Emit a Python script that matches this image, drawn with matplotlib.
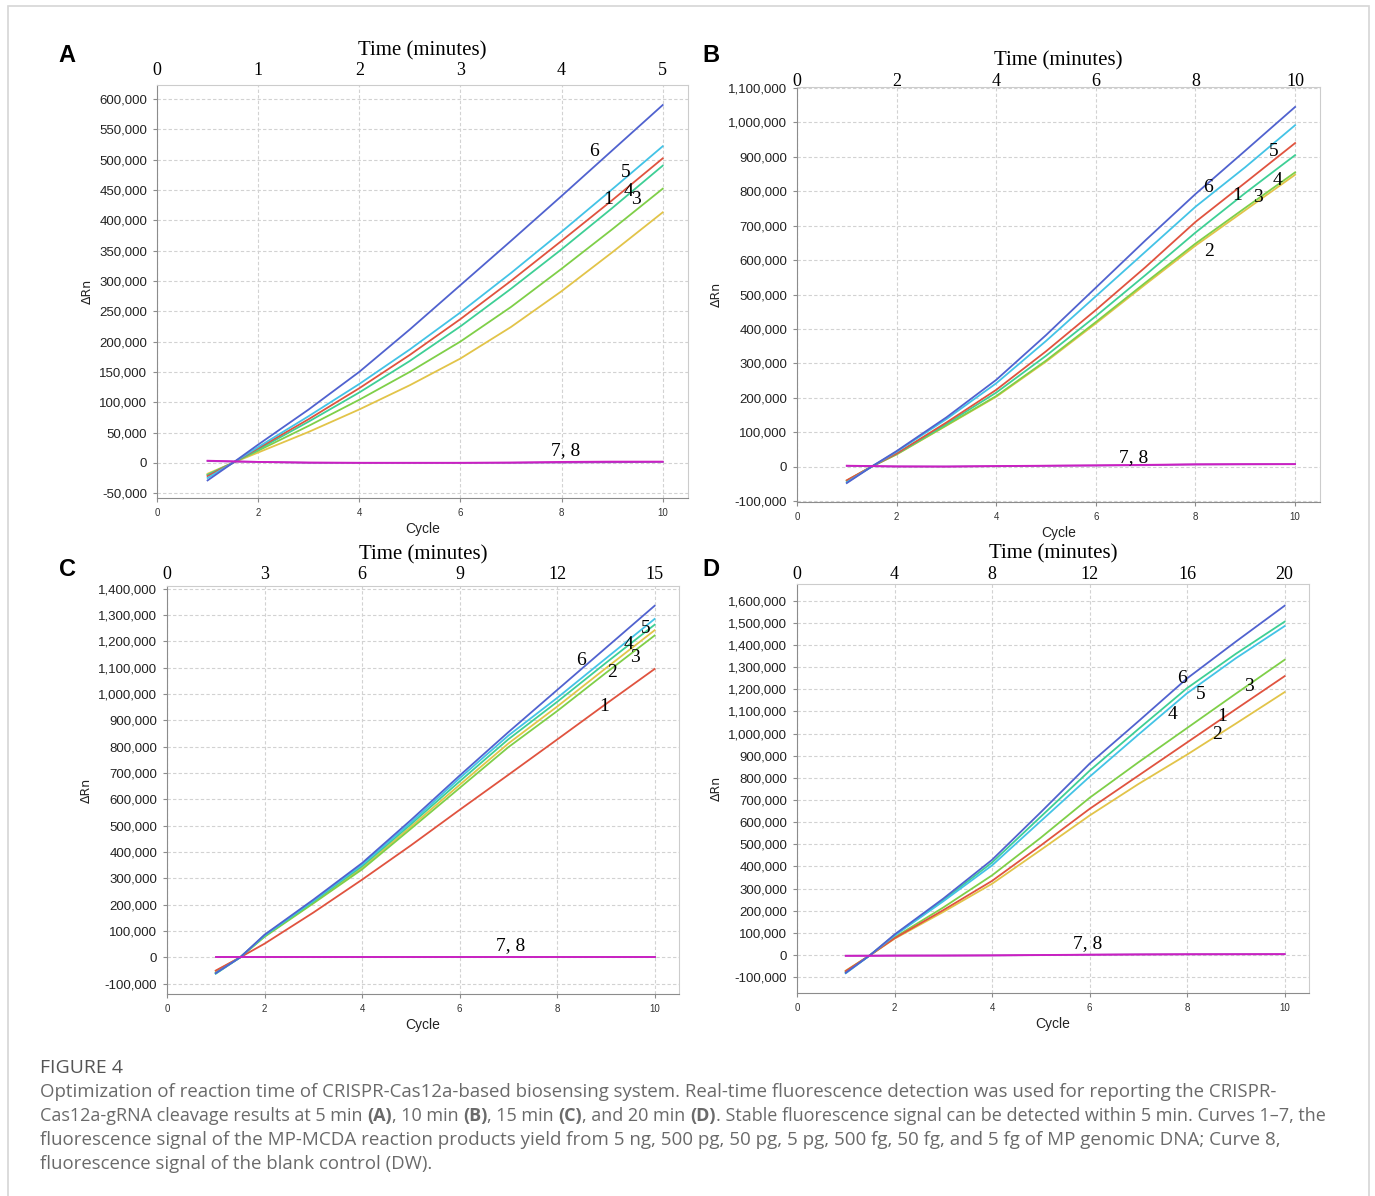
import matplotlib
matplotlib.use("Agg")
import matplotlib.pyplot as plt
from matplotlib.ticker import FuncFormatter, MultipleLocator
from matplotlib.patches import Rectangle

cycles = [1, 1.5, 2, 3, 4, 5, 6, 7, 8, 9, 10]

# panel A, 5 min (curve number -> values)
a1 = [-22000, 0, 24000, 72000, 123000, 178000, 237000, 300000, 366000, 433000, 502000]
a2 = [-18000, 0, 17000, 51000, 88000, 128000, 172000, 224000, 283000, 347000, 413000]
a3 = [-20000, 0, 20000, 61000, 104000, 150000, 200000, 257000, 320000, 385000, 452000]
a4 = [-20000, 0, 22000, 68000, 116000, 168000, 225000, 287000, 352000, 420000, 490000]
a5 = [-25000, 0, 26000, 77000, 130000, 187000, 248000, 313000, 381000, 451000, 522000]
a6 = [-29000, 0, 30000, 88000, 150000, 220000, 293000, 366000, 440000, 515000, 590000]
a7 = [3000, 2000, 1500, 0, 0, 0, 0, 0, 500, 1000, 1500]
a8 = [3500, 2500, 1500, 500, 0, 0, 0, 500, 1500, 2000, 2000]

# panel B, 10 min
b1 = [-40000, 0, 38000, 128000, 223000, 335000, 455000, 580000, 711000, 825000, 940000]
b2 = [-40000, 0, 35000, 119000, 203000, 305000, 416000, 530000, 642000, 745000, 848000]
b3 = [-42000, 0, 36000, 120000, 205000, 308000, 420000, 535000, 648000, 752000, 855000]
b4 = [-42000, 0, 37000, 124000, 215000, 322000, 437000, 557000, 680000, 795000, 905000]
b5 = [-46000, 0, 43000, 138000, 242000, 365000, 495000, 625000, 755000, 870000, 992000]
b6 = [-48000, 0, 45000, 143000, 252000, 382000, 520000, 658000, 792000, 918000, 1045000]
b7 = [2000, 1000, 0, 0, 1000, 2000, 3000, 4000, 6000, 6500, 7000]
b8 = [2500, 1500, 500, 0, 1500, 2500, 3500, 5000, 6500, 7000, 7000]

# panel C, 15 min
c1 = [-50000, 0, 52000, 170000, 295000, 425000, 560000, 693000, 827000, 962000, 1095000]
c2 = [-52000, 0, 80000, 208000, 340000, 496000, 655000, 812000, 952000, 1098000, 1242000]
c3 = [-58000, 0, 78000, 205000, 334000, 488000, 643000, 798000, 935000, 1080000, 1222000]
c4 = [-62000, 0, 82000, 212000, 346000, 505000, 668000, 828000, 970000, 1118000, 1263000]
c5 = [-60000, 0, 84000, 215000, 352000, 512000, 680000, 842000, 985000, 1135000, 1285000]
c6 = [-60000, 0, 86000, 219000, 358000, 521000, 690000, 855000, 1015000, 1175000, 1335000]
c7 = [0, 0, 0, 0, 0, 0, 0, 0, 0, 0, 0]
c8 = [0, 0, 0, 0, 0, 0, 0, 0, 0, 0, 0]

# panel D, 20 min
d1 = [-72000, 0, 76000, 203000, 335000, 495000, 660000, 810000, 960000, 1110000, 1259000]
d2 = [-70000, 0, 74000, 195000, 322000, 475000, 630000, 772000, 905000, 1045000, 1187000]
d3 = [-74000, 0, 80000, 215000, 360000, 530000, 710000, 870000, 1025000, 1180000, 1333000]
d4 = [-78000, 0, 90000, 248000, 418000, 625000, 832000, 1020000, 1205000, 1360000, 1505000]
d5 = [-82000, 0, 88000, 243000, 405000, 605000, 805000, 995000, 1182000, 1340000, 1485000]
d6 = [-80000, 0, 93000, 255000, 430000, 645000, 864000, 1055000, 1249000, 1415000, 1577000]
d7 = [-3000, -2500, -2000, -2000, -1500, 0, 1500, 3000, 3500, 4000, 4000]
d8 = [-3000, -3000, -2500, -2000, -1000, 500, 2000, 3000, 4000, 4000, 4500]

colors = {1: "#e0533f", 2: "#e2c449", 3: "#7fcf48", 4: "#3ecf95",
          5: "#43c3e6", 6: "#5062cf", 7: "#9b4fc4", 8: "#cc1fc2"}

panels = [
    # letter + position, curves, minutes per cycle, time ticks, ylim, y step, axes box (px), curve labels, pads
    ("A", (67, 55), [a1, a2, a3, a4, a5, a6, a7, a8], 0.5, [0, 1, 2, 3, 4, 5], (-58000, 623000), 50000,
     (157, 688, 85, 498),
     [("6", 8.64, 513000), ("5", 9.27, 478000), ("1", 8.92, 435000), ("4", 9.32, 447000),
      ("3", 9.48, 434000), ("7, 8", 8.08, 20000)], 4, 5),
    ("B", (711, 56), [b1, b2, b3, b4, b5, b6, b7, b8], 1.0, [0, 2, 4, 6, 8, 10], (-103000, 1103000), 100000,
     (797, 1320, 87, 502),
     [("6", 8.25, 810000), ("5", 9.57, 915000), ("1", 8.84, 789000), ("3", 9.26, 782000),
      ("4", 9.65, 831000), ("2", 8.27, 624000), ("7, 8", 6.76, 26000)], -2, 5),
    ("C", (67, 570), [c1, c2, c3, c4, c5, c6, c7, c8], 1.5, [0, 3, 6, 9, 12, 15], (-139000, 1410000), 100000,
     (167, 679, 586, 994),
     [("6", 8.48, 1127000), ("5", 9.81, 1248000), ("4", 9.46, 1187000), ("3", 9.6, 1137000),
      ("2", 9.13, 1080000), ("1", 8.96, 953000), ("7, 8", 7.05, 44000)], 2, 5),
    ("D", (711, 570), [d1, d2, d3, d4, d5, d6, d7, d8], 2.0, [0, 4, 8, 12, 16, 20], (-171000, 1675000), 100000,
     (797, 1309, 584, 993),
     [("6", 7.90, 1247000), ("5", 8.28, 1175000), ("4", 7.71, 1085000), ("3", 9.26, 1214000),
      ("1", 8.71, 1075000), ("2", 8.62, 997000), ("7, 8", 5.95, 51000)], 1, 5),
]

W, H = 1375, 1196
fig = plt.figure(figsize=(W / 100, H / 100), dpi=100)
fig.patch.set_facecolor("white")

# outer frame of the figure box
fig.add_artist(Rectangle((8 / W, -0.01), (1369 - 8) / W, 1.01 - 6 / H, transform=fig.transFigure,
                         fill=False, edgecolor="#d6d6d6", linewidth=1.2))

draw_order = [2, 3, 4, 1, 5, 6, 7, 8]

for letter, lpos, curves, factor, tticks, ylim, ystep, box, labels, top_pad, lab_pad in panels:
    x0, x1, y0, y1 = box
    ax = fig.add_axes([x0 / W, 1 - y1 / H, (x1 - x0) / W, (y1 - y0) / H])
    for n in draw_order:
        ax.plot(cycles, curves[n - 1], color=colors[n], linewidth=1.3)
    ax.set_xlim(0, 10.5)
    ax.set_ylim(*ylim)
    ax.set_xticks([0, 2, 4, 6, 8, 10])
    ax.yaxis.set_major_locator(MultipleLocator(ystep))
    ax.yaxis.set_major_formatter(FuncFormatter(lambda v, p: f"{v:,.0f}"))
    ax.grid(True, color="#d2d2d2", linestyle=(0, (3, 2)), linewidth=0.8)
    for s in ["left", "bottom"]:
        ax.spines[s].set_color("#8c8c8c")
    for s in ["top", "right"]:
        ax.spines[s].set_color("#cccccc")
    ax.tick_params(axis="x", length=3, color="#8c8c8c", labelsize=7, labelcolor="#333333", pad=4)
    ax.tick_params(axis="y", length=3, color="#8c8c8c", labelsize=9.5, labelcolor="#222222", pad=4)
    for lab in ax.get_xticklabels() + ax.get_yticklabels():
        lab.set_family("Liberation Sans")
    ax.set_xlabel("Cycle", fontsize=10, family="Liberation Sans", color="#222222", labelpad=3)
    ax.set_ylabel("ΔRn", fontsize=9, family="DejaVu Sans", color="#222222")

    top = ax.secondary_xaxis("top", functions=(lambda x, f=factor: x * f, lambda t, f=factor: t / f))
    top.set_xticks(tticks)
    top.tick_params(length=0, pad=top_pad, labelsize=13, labelfontfamily="Liberation Serif")
    top.spines["top"].set_visible(False)
    top.set_xlabel("Time (minutes)", fontsize=15, family="Liberation Serif", labelpad=lab_pad)

    for txt, x, y in labels:
        ax.text(x, y, txt, fontsize=14, family="Liberation Serif", ha="center", va="center")

    fig.text(lpos[0] / W, 1 - lpos[1] / H, letter, fontsize=17, fontweight="bold",
             family="Liberation Sans", ha="center", va="center")

fig.canvas.draw()
renderer = fig.canvas.get_renderer()

# caption
cap_color = "#6a6a6a"
fig.text(40 / W, 1 - 1068 / H, "FIGURE 4", fontsize=14, family="Open Sans", color="#555555",
         va="center")

caption_lines = [
    [("Optimization of reaction time of CRISPR-Cas12a-based biosensing system. Real-time fluorescence "
      "detection was used for reporting the CRISPR-", "normal")],
    [("Cas12a-gRNA cleavage results at 5 min ", "normal"), ("(A)", "bold"), (", 10 min ", "normal"),
     ("(B)", "bold"), (", 15 min ", "normal"), ("(C)", "bold"), (", and 20 min ", "normal"),
     ("(D)", "bold"),
     (". Stable fluorescence signal can be detected within 5 min. Curves 1\u20137, the", "normal")],
    [("fluorescence signal of the MP-MCDA reaction products yield from 5 ng, 500 pg, 50 pg, 5 pg, "
      "500 fg, 50 fg, and 5 fg of MP genomic DNA; Curve 8,", "normal")],
    [("fluorescence signal of the blank control (DW).", "normal")],
]
line_y = [1092, 1116, 1140, 1164]
line_size = [13.4, 13.0, 13.5, 13.4]
for segs, yy, fs in zip(caption_lines, line_y, line_size):
    xpos = 40
    for txt, weight in segs:
        t = fig.text(xpos / W, 1 - yy / H, txt, fontsize=fs, family="Open Sans", color=cap_color,
                     fontweight=weight, va="center")
        xpos += t.get_window_extent(renderer).width

fig.savefig("out.png", dpi=100)
